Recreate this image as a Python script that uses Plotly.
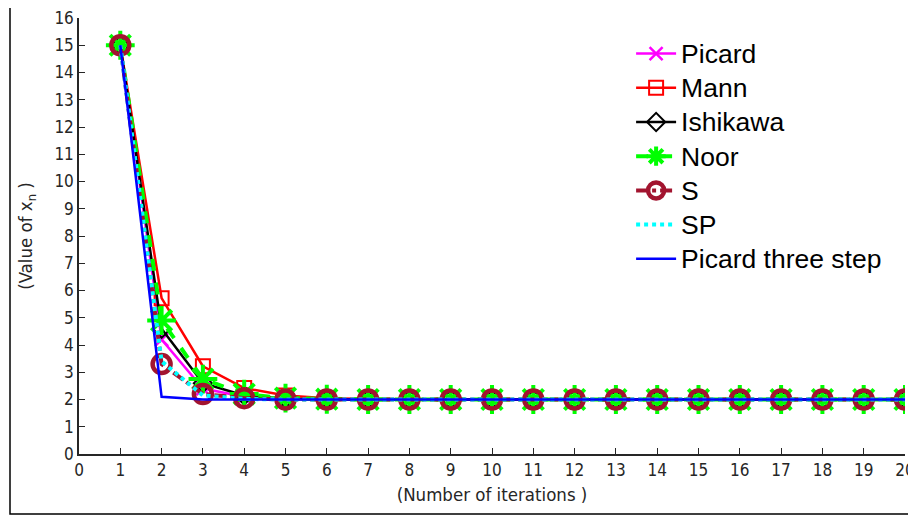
import plotly.graph_objects as go

iters = list(range(1, 21))
picard = [15, 4.2, 2.4, 2.1, 2.02] + [2.0] * 15
mann = [15, 5.72, 3.22, 2.42, 2.15, 2.05, 2.02] + [2.0] * 13
ishikawa = [15, 4.6, 2.6, 2.15, 2.03] + [2.0] * 15
noor = [15, 4.9, 2.75, 2.2, 2.05, 2.01] + [2.0] * 14
s_it = [15, 3.3, 2.2, 2.05, 2.0] + [2.0] * 15
sp = [15, 3.4, 2.15, 2.02, 2.0] + [2.0] * 15
p3 = [15, 2.1, 2.0, 2.0, 2.0] + [2.0] * 15
names = ["Picard", "Mann", "Ishikawa", "Noor", "S", "SP", "Picard three step"]


def lg(n):
    return "<span style='font-size:26.5px'>" + n + "</span>"


fig = go.Figure()
fig.add_trace(go.Scatter(x=iters, y=picard, name=lg(names[0]), mode="lines+markers",
                         line=dict(color="#FF00FF", width=2.5),
                         marker=dict(symbol="x-thin", size=13, line=dict(color="#FF00FF", width=2.5))))
fig.add_trace(go.Scatter(x=iters, y=mann, name=lg(names[1]), mode="lines+markers",
                         line=dict(color="#FF0000", width=2.5),
                         marker=dict(symbol="square-open", size=14, color="#FF0000", line=dict(width=2))))
fig.add_trace(go.Scatter(x=iters, y=ishikawa, name=lg(names[2]), mode="lines+markers",
                         line=dict(color="#000000", width=2.5),
                         marker=dict(symbol="diamond-open", size=14, color="#000000", line=dict(width=2))))
fig.add_trace(go.Scatter(x=iters, y=noor, name=lg(names[3]), mode="lines+markers",
                         line=dict(color="#00FF00", width=4, dash="dash"),
                         marker=dict(symbol="asterisk-open", size=24, line=dict(color="#00FF00", width=4))))
fig.add_trace(go.Scatter(x=iters, y=s_it, name=lg(names[4]), mode="lines+markers",
                         line=dict(color="#A2142F", width=4, dash="dashdot"),
                         marker=dict(symbol="circle-open", size=18, color="#A2142F", line=dict(width=4.5))))
fig.add_trace(go.Scatter(x=iters, y=sp, name=lg(names[5]), mode="lines",
                         line=dict(color="#00FFFF", width=4, dash="dot")))
fig.add_trace(go.Scatter(x=iters, y=p3, name=lg(names[6]), mode="lines",
                         line=dict(color="#0000FF", width=2.5)))

condensed = "DejaVu Sans Condensed, Liberation Sans Narrow, Liberation Sans, sans-serif"
tickfont = dict(family=condensed, size=17, color="#262626")
titlefont = dict(family=condensed, size=18.5, color="#262626")
fig.update_layout(
    width=916, height=516,
    margin=dict(l=71, r=19, t=10, b=70, autoexpand=False),
    paper_bgcolor="white", plot_bgcolor="white",
    showlegend=True,
    legend=dict(x=0.6684, y=0.969, xanchor="left", yanchor="top",
                font=dict(family="Liberation Sans, Arial, sans-serif", size=24, color="#000000"),
                bgcolor="rgba(255,255,255,0)", tracegroupgap=0, itemwidth=40),
    xaxis=dict(range=[0, 20], dtick=1, tick0=0, showgrid=False, zeroline=False,
               showline=True, linecolor="#262626", linewidth=1.5, automargin=False,
               ticks="inside", ticklen=6, tickcolor="#262626", tickfont=tickfont,
               ticklabeloverflow="allow",
               title=dict(text="(Number of iterations )", font=titlefont, standoff=9)),
    yaxis=dict(range=[0, 16], dtick=1, tick0=0, showgrid=False, zeroline=False,
               showline=True, linecolor="#262626", linewidth=1.5, automargin=False,
               ticks="inside", ticklen=6, tickcolor="#262626", tickfont=tickfont,
               ticklabeloverflow="allow",
               title=dict(text="(Value of x<sub>n</sub> )", font=titlefont, standoff=17)),
    shapes=[dict(type="rect", xref="paper", yref="paper",
                 x0=-69/826, x1=1+30/826, y0=-60/436, y1=1+14/436,
                 line=dict(color="#000000", width=1.5), fillcolor="rgba(0,0,0,0)")],
)

fig.write_html("out.html")
